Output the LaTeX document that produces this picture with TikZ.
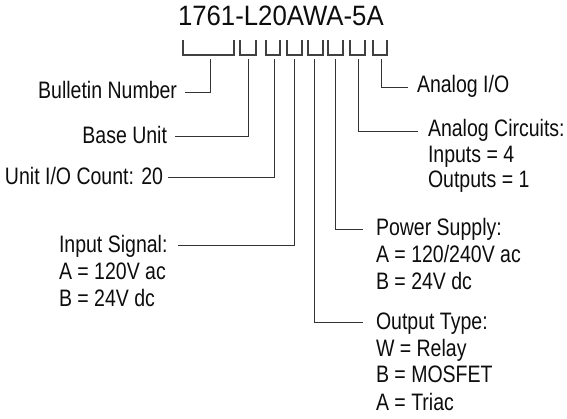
\documentclass[tikz,border=0pt]{standalone}
\usepackage{fontspec}
\setmainfont[FakeStretch=0.82]{Liberation Sans}
\newfontfamily\titlefont[FakeStretch=0.92]{Liberation Sans}
\begin{document}
\begin{tikzpicture}[x=1pt,y=-1pt,
  lbl/.style={inner sep=0pt, outer sep=0pt, text=black!95, font=\fontsize{23.8}{26}\selectfont},
  ttl/.style={inner sep=0pt, outer sep=0pt, text=black!95, font=\titlefont\fontsize{28}{30}\selectfont},
  conn/.style={draw=black!80, line width=0.9pt},
  brk/.style={draw=black!75, line width=1.4pt}]
\useasboundingbox (0,0) rectangle (567,419);

% title
\node[ttl, anchor=base west] (title) at (178,26) {1761-L20AWA-5A};

% brackets
\foreach \a/\b in {183/234, 240/256, 266/280, 287/302, 308/323, 328/343, 350/365, 373/387}
  \draw[brk] (\a,40) -- (\a,55) -- (\b,55) -- (\b,40);

% tick tops
\coordinate (t1) at (210,59);
\coordinate (t2) at (248,59);
\coordinate (t3) at (274,59);
\coordinate (t4) at (294,59);
\coordinate (t5) at (314,59);
\coordinate (t6) at (335,59);
\coordinate (t7) at (358,59);
\coordinate (t8) at (381,59);

% left labels
\node[lbl, anchor=base east] (bn) at (177,99) {Bulletin Number};
\node[lbl, anchor=base east] (bu) at (167,144) {Base Unit};
\node[lbl, anchor=base east] (ioc) at (163,185) {Unit I/O Count: 20};
\node[lbl, anchor=base west] (is) at (59,253) {Input Signal:};
\node[lbl, anchor=base west] (isa) at (59,280) {A = 120V ac};
\node[lbl, anchor=base west] (isb) at (59,306) {B = 24V dc};

% right labels
\node[lbl, anchor=base west] (aio) at (417,93) {Analog I/O};
\node[lbl, anchor=base west] (ac) at (428,137) {Analog Circuits:};
\node[lbl, anchor=base west] (aci) at (428,163) {Inputs = 4};
\node[lbl, anchor=base west] (aco) at (428,188) {Outputs = 1};
\node[lbl, anchor=base west] (ps) at (376,236) {Power Supply:};
\node[lbl, anchor=base west] (psa) at (376,263) {A = 120/240V ac};
\node[lbl, anchor=base west] (psb) at (376,290) {B = 24V dc};
\node[lbl, anchor=base west] (ot) at (376,329) {Output Type:};
\node[lbl, anchor=base west] (otw) at (376,356) {W = Relay};
\node[lbl, anchor=base west] (otb) at (376,382) {B = MOSFET};
\node[lbl, anchor=base west] (ota) at (376,410) {A = Triac};

% connectors
\draw[conn] (t1) |- ([xshift=8pt,yshift=7pt]bn.base east);
\draw[conn] (t2) |- ([xshift=8pt,yshift=8pt]bu.base east);
\draw[conn] (t3) |- ([xshift=5pt,yshift=8pt]ioc.base east);
\draw[conn] (t4) |- ([xshift=10pt,yshift=8pt]is.base east);
\draw[conn] (t5) |- ([xshift=-13pt,yshift=7pt]ot.base west);
\draw[conn] (t6) |- ([xshift=-13pt,yshift=7pt]ps.base west);
\draw[conn] (t7) |- ([xshift=-10pt,yshift=6pt]ac.base west);
\draw[conn] (t8) |- ([xshift=-9pt,yshift=6pt]aio.base west);
\end{tikzpicture}
\end{document}
